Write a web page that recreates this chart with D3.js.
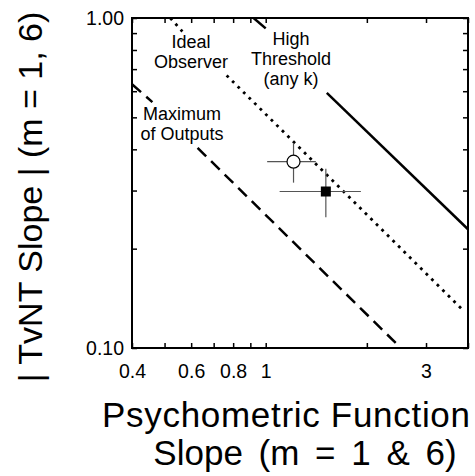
<!DOCTYPE html>
<html>
<head>
<meta charset="utf-8">
<script src="https://cdn.jsdelivr.net/npm/d3@7"></script>
<style>
  html, body { margin: 0; padding: 0; background: #fff; }
  svg { display: block; }
  text { font-family: "Liberation Sans", Arial, Helvetica, sans-serif; fill: #000; }
</style>
</head>
<body>
<svg id="chart" width="475" height="476"></svg>
<script>
// Model predictions (straight lines on log-log axes), as [slope, |TvNT slope|] points.
// Each model line is split into segments so that its label sits in a gap.
const highThresholdSegments = [
  [[0.92, 1.0], [1.0, 0.93]],
  [[1.52, 0.593], [4.0, 0.229]]
];
const idealObserverSegments = [
  [[0.52, 1.0], [0.565, 0.91]],
  [[0.765, 0.67], [3.87, 0.13]]
];
const maxOutputsSegments = [
  [[0.4, 0.63], [0.46, 0.556]],
  [[0.627, 0.404], [2.5, 0.101]]
];

// Observed data: point estimate with horizontal and vertical error ranges.
const openPoint = { x: 1.21, y: 0.367, xLo: 1.01, xHi: 1.41, yLo: 0.317, yHi: 0.418 };
const filledPoint = { x: 1.51, y: 0.298, xLo: 1.10, xHi: 1.92, yLo: 0.249, yHi: 0.349 };

// Axis ticks and labels
const xTicks = [0.4, 0.5, 0.6, 0.7, 0.8, 0.9, 1, 2, 3, 4];
const xTickLabels = { 0.4: "0.4", 0.6: "0.6", 0.8: "0.8", 1: "1", 3: "3" };
const yTicks = [0.1, 0.2, 0.3, 0.4, 0.5, 0.6, 0.7, 0.8, 0.9, 1];
const yTickLabels = { 0.1: "0.10", 1: "1.00" };

// Line labels
const idealLabel = ["Ideal", "Observer"];
const highLabel = ["High", "Threshold", "(any k)"];
const maxLabel = ["Maximum", "of Outputs"];

const svg = d3.select("#chart");
const plotLeft = 132, plotRight = 468, plotTop = 18, plotBottom = 348;

const x = d3.scaleLog().domain([0.4, 4.0]).range([plotLeft, plotRight]);
const y = d3.scaleLog().domain([0.1, 1.0]).range([plotBottom, plotTop]);

// Axes with inward ticks on all four sides
const tickLen = 5;
const axB = svg.append("g").attr("transform", `translate(0,${plotBottom})`)
  .call(d3.axisBottom(x).tickValues(xTicks).tickSizeInner(-tickLen).tickSizeOuter(0)
    .tickPadding(16).tickFormat(d => xTickLabels[d] || ""));
const axT = svg.append("g").attr("transform", `translate(0,${plotTop})`)
  .call(d3.axisTop(x).tickValues(xTicks).tickSizeInner(-tickLen).tickSizeOuter(0).tickFormat(""));
const axL = svg.append("g").attr("transform", `translate(${plotLeft},0)`)
  .call(d3.axisLeft(y).tickValues(yTicks).tickSizeInner(-tickLen).tickSizeOuter(0)
    .tickPadding(8).tickFormat(d => yTickLabels[d] || ""));
const axR = svg.append("g").attr("transform", `translate(${plotRight},0)`)
  .call(d3.axisRight(y).tickValues(yTicks).tickSizeInner(-tickLen).tickSizeOuter(0).tickFormat(""));

[axB, axT, axL, axR].forEach(g => {
  g.select(".domain").remove();
  g.selectAll(".tick line").attr("stroke", "#000").attr("stroke-width", 1.5);
  g.selectAll(".tick text").attr("font-size", 19.5)
    .attr("font-family", "'Liberation Sans', Arial, Helvetica, sans-serif").attr("fill", "#000");
});

// Plot frame
svg.append("rect")
  .attr("x", plotLeft).attr("y", plotTop)
  .attr("width", plotRight - plotLeft).attr("height", plotBottom - plotTop)
  .attr("fill", "none").attr("stroke", "#000").attr("stroke-width", 2);

const line = d3.line().x(d => x(d[0])).y(d => y(d[1]));

function drawSegments(segs, dash, width) {
  svg.append("g").selectAll("path").data(segs).join("path")
    .attr("d", line)
    .attr("fill", "none")
    .attr("stroke", "#000")
    .attr("stroke-width", width)
    .attr("stroke-dasharray", dash);
}
drawSegments(highThresholdSegments, null, 2.5);
drawSegments(idealObserverSegments, "2.8 5", 2.8);
drawSegments(maxOutputsSegments, "12 7", 2.5);

// Error bars and symbols
function drawPoint(p, symbol) {
  const g = svg.append("g");
  g.append("line").attr("x1", x(p.xLo)).attr("x2", x(p.xHi))
    .attr("y1", y(p.y)).attr("y2", y(p.y)).attr("stroke", "#555").attr("stroke-width", 1.2);
  g.append("line").attr("x1", x(p.x)).attr("x2", x(p.x))
    .attr("y1", y(p.yLo)).attr("y2", y(p.yHi)).attr("stroke", "#555").attr("stroke-width", 1.2);
  if (symbol === "circle") {
    g.append("circle").attr("cx", x(p.x)).attr("cy", y(p.y)).attr("r", 6.5)
      .attr("fill", "#fff").attr("stroke", "#000").attr("stroke-width", 1.2);
  } else {
    g.append("rect").attr("x", x(p.x) - 5).attr("y", y(p.y) - 5)
      .attr("width", 10).attr("height", 10).attr("fill", "#000");
  }
}
drawPoint(openPoint, "circle");
drawPoint(filledPoint, "square");

// Line labels
function drawLabel(lines, cx, y0, step) {
  svg.append("g").selectAll("text").data(lines).join("text")
    .attr("x", cx).attr("y", (d, i) => y0 + i * step)
    .attr("text-anchor", "middle").attr("font-size", 18)
    .text(d => d);
}
drawLabel(idealLabel, 191, 48, 20);
drawLabel(highLabel, 291, 45, 20);
drawLabel(maxLabel, 182, 120, 20);

// Axis titles
svg.append("text").attr("x", 286).attr("y", 427)
  .attr("text-anchor", "middle").attr("font-size", 35)
  .attr("textLength", 368).attr("lengthAdjust", "spacing")
  .text("Psychometric Function");
svg.append("text").attr("x", 305).attr("y", 465)
  .attr("text-anchor", "middle").attr("font-size", 35)
  .attr("word-spacing", 6)
  .text("Slope (m = 1 & 6)");
svg.append("text")
  .attr("transform", "translate(42,197) rotate(-90)")
  .attr("text-anchor", "middle").attr("font-size", 34)
  .text("| TvNT Slope | (m = 1, 6)");
</script>
</body>
</html>
